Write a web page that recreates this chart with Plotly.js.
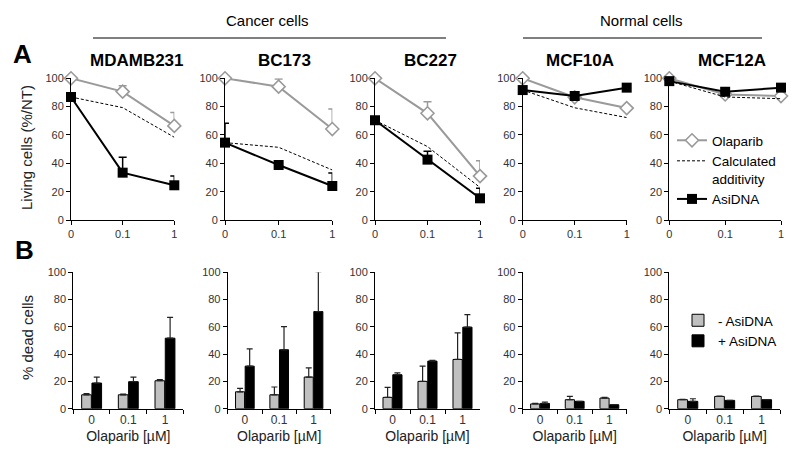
<!DOCTYPE html>
<html><head><meta charset="utf-8">
<script src="https://cdn.plot.ly/plotly-3.0.1.min.js"></script>
<style>html,body{margin:0;padding:0;background:#fff}#chart{width:800px;height:461px}</style>
</head><body><div id="chart"></div>
<script>
// ---------- data ----------
const cellLines = ['MDAMB231', 'BC173', 'BC227', 'MCF10A', 'MCF12A'];
const concLabels = ['0', '0.1', '1'];
const groupLabels = ['Cancer cells', 'Normal cells'];

// Panel A: living cells (%/NT), one row per cell line
const olaparibLiving = [[100, 90.6, 66.4], [100, 94.1, 64.2], [100, 75.3, 31.0], [100, 86.6, 79.0], [100, 88.6, 87.5]];
const olaparibErr    = [[0, 4.2, 9.4],     [0, 5.4, 14.2],    [0, 8.2, 10.9],    [0, 0, 0],         [0, 0, 0]];
const additivity     = [[86.8, 79.3, 58.4], [54.6, 51.3, 35.3], [70.4, 51.8, 23.0], [91.7, 79.2, 72.3], [98.0, 86.8, 85.6]];
const asidnaLiving   = [[86.8, 33.4, 24.5], [54.6, 38.8, 24.0], [70.4, 42.6, 15.3], [91.7, 87.5, 93.4], [98.0, 90.5, 93.4]];
const asidnaErr      = [[0, 10.8, 6.5],     [13.6, 0, 9.2],    [0, 5.9, 7.1],     [0, 0, 0],         [0, 0, 0]];

// Panel B: % dead cells
const deadMinus    = [[10.2, 10.2, 20.5], [12.4, 10.2, 23.2], [8.3, 20.0, 36.1], [3.5, 6.6, 7.8], [6.6, 9.0, 9.0]];
const deadMinusErr = [[0.8, 0.5, 0.8],    [2.5, 5.7, 6.8],    [7.3, 11.2, 19.5], [0.5, 2.4, 0.5], [0.3, 0.3, 0.3]];
const deadPlus     = [[18.8, 19.8, 51.7], [31.2, 43.2, 71.2], [24.9, 34.9, 59.8], [3.9, 5.4, 2.9], [5.4, 6.1, 6.6]];
const deadPlusErr  = [[4.4, 3.4, 15.3],   [12.7, 17.0, 29.3], [1.4, 0.5, 9.2],   [1.0, 0, 0],     [1.9, 0, 0]];

// ---------- layout helpers ----------
const W = 800, H = 461;
const px = x => x / W;
const py = y => 1 - y / H;
const aX = [[71, 174.3], [225, 332.3], [375, 480], [522.7, 626.7], [669.3, 781]];
const bX = [[73.3, 183.3], [227.7, 330.7], [375, 480], [522.7, 626.7], [669.3, 780]];
const aY = [220, 78.3], bY = [408.7, 272.3];
const titleX = [137, 284, 431, 580, 732];

const FONT = 'Liberation Sans, Arial, sans-serif';
const GREY = '#9a9a9a';
const TICKC = '#333';

const traces = [];
const layout = {
  width: W, height: H,
  margin: {l: 0, r: 0, t: 0, b: 0},
  paper_bgcolor: '#fff', plot_bgcolor: 'rgba(0,0,0,0)',
  font: {family: FONT, color: '#000'},
  showlegend: true,
  barmode: 'group', bargap: 0.44, bargroupgap: 0.06,
  legend: {x: px(672), y: py(125), xanchor: 'left', yanchor: 'top', valign: 'top',
           font: {size: 13.5, color: '#000', family: FONT}, bgcolor: 'rgba(0,0,0,0)', tracegroupgap: 0},
  legend2: {x: px(678), y: py(305), xanchor: 'left', yanchor: 'top',
            font: {size: 13.5, color: '#000', family: FONT}, bgcolor: 'rgba(0,0,0,0)', tracegroupgap: 0},
  annotations: [], shapes: []
};

function baseAxis() {
  return {showline: true, linecolor: '#000', linewidth: 1, ticks: 'outside', ticklen: 4,
          tickcolor: '#000', tickwidth: 1, showgrid: false, zeroline: false, fixedrange: true,
          tickfont: {size: 11, color: TICKC, family: FONT}};
}

cellLines.forEach((name, i) => {
  const na = i + 1, nb = i + 6;
  const xa = 'x' + na, ya = 'y' + na, xb = 'x' + nb, yb = 'y' + nb;
  const show = (i === 4);
  const showB = (i === 4);

  // Row A axes
  layout['xaxis' + na] = Object.assign(baseAxis(), {
    domain: [px(aX[i][0]), px(aX[i][1])], anchor: ya, type: 'category',
    range: [0, 2], categoryorder: 'array', categoryarray: concLabels
  });
  layout['yaxis' + na] = Object.assign(baseAxis(), {
    domain: [py(aY[0]), py(aY[1])], anchor: xa, range: [0, 100], tickvals: [0, 20, 40, 60, 80, 100]
  });
  // Row B axes
  layout['xaxis' + nb] = Object.assign(baseAxis(), {
    domain: [px(bX[i][0]), px(bX[i][1])], anchor: yb, type: 'category', tickson: 'boundaries',
    range: [-0.5, 2.5], categoryorder: 'array', categoryarray: concLabels,
    tickfont: {size: 12, color: TICKC, family: FONT},
    title: {text: 'Olaparib [µM]', font: {size: 14, color: '#222', family: FONT}, standoff: 5}
  });
  layout['yaxis' + nb] = Object.assign(baseAxis(), {
    domain: [py(bY[0]), py(bY[1])], anchor: xb, range: [0, 100], tickvals: [0, 20, 40, 60, 80, 100]
  });

  const zeros = [0, 0, 0];
  // Olaparib
  traces.push({
    type: 'scatter', mode: 'lines+markers', name: 'Olaparib', x: concLabels, y: olaparibLiving[i],
    xaxis: xa, yaxis: ya, showlegend: show, legend: 'legend', cliponaxis: false,
    line: {color: GREY, width: 2},
    marker: {symbol: 'diamond', size: 10, color: '#fff', line: {color: GREY, width: 1.6}},
    error_y: {type: 'data', symmetric: false, array: olaparibErr[i], arrayminus: zeros,
              color: GREY, thickness: 1.5, width: 4}
  });
  // Calculated additivity
  traces.push({
    type: 'scatter', mode: 'lines', name: 'Calculated<br>additivity', x: concLabels, y: additivity[i],
    xaxis: xa, yaxis: ya, showlegend: show, legend: 'legend', cliponaxis: false,
    line: {color: '#000', width: 1, dash: '3px,2px'}
  });
  // AsiDNA
  traces.push({
    type: 'scatter', mode: 'lines+markers', name: 'AsiDNA', x: concLabels, y: asidnaLiving[i],
    xaxis: xa, yaxis: ya, showlegend: show, legend: 'legend', cliponaxis: false,
    line: {color: '#000', width: 2},
    marker: {symbol: 'square', size: 10, color: '#000'},
    error_y: {type: 'data', symmetric: false, array: asidnaErr[i], arrayminus: zeros,
              color: '#000', thickness: 1.5, width: 4}
  });
  // Bars
  traces.push({
    type: 'bar', name: '- AsiDNA', x: concLabels, y: deadMinus[i], xaxis: xb, yaxis: yb,
    showlegend: showB, legend: 'legend2',
    marker: {color: '#c0c0c0', line: {color: '#000', width: 1}},
    error_y: {type: 'data', symmetric: false, array: deadMinusErr[i], arrayminus: zeros,
              color: '#222', thickness: 1.2, width: 3}
  });
  traces.push({
    type: 'bar', name: '+ AsiDNA', x: concLabels, y: deadPlus[i], xaxis: xb, yaxis: yb,
    showlegend: showB, legend: 'legend2',
    marker: {color: '#000', line: {color: '#000', width: 1}},
    error_y: {type: 'data', symmetric: false, array: deadPlusErr[i], arrayminus: zeros,
              color: '#222', thickness: 1.2, width: 3}
  });

  // Panel title
  layout.annotations.push({
    text: '<b>' + name + '</b>', xref: 'paper', yref: 'paper', x: px(titleX[i]), y: py(61),
    xanchor: 'center', yanchor: 'middle', showarrow: false, font: {size: 17, color: '#000', family: FONT}
  });
});

// Group headers with rules
const groupSpans = [[93, 446, 267.5], [523, 762, 641.7]];
groupLabels.forEach((g, k) => {
  layout.annotations.push({
    text: g, xref: 'paper', yref: 'paper', x: px(groupSpans[k][2]), y: py(20),
    xanchor: 'center', yanchor: 'middle', showarrow: false, font: {size: 15, color: '#000', family: FONT}
  });
  layout.shapes.push({
    type: 'line', xref: 'paper', yref: 'paper', x0: px(groupSpans[k][0]), x1: px(groupSpans[k][1]),
    y0: py(38), y1: py(38), line: {color: '#000', width: 1}
  });
});

// Panel letters and y-axis titles
layout.annotations.push(
  {text: '<b>A</b>', xref: 'paper', yref: 'paper', x: px(22), y: py(54), xanchor: 'center', yanchor: 'middle',
   showarrow: false, font: {size: 26, color: '#000', family: FONT}},
  {text: '<b>B</b>', xref: 'paper', yref: 'paper', x: px(24), y: py(250), xanchor: 'center', yanchor: 'middle',
   showarrow: false, font: {size: 26, color: '#000', family: FONT}},
  {text: 'Living cells (%/NT)', xref: 'paper', yref: 'paper', x: px(26), y: py(148), textangle: -90,
   xanchor: 'center', yanchor: 'middle', showarrow: false, font: {size: 15, color: '#222', family: FONT}},
  {text: '% dead cells', xref: 'paper', yref: 'paper', x: px(27), y: py(338), textangle: -90,
   xanchor: 'center', yanchor: 'middle', showarrow: false, font: {size: 15, color: '#222', family: FONT}}
);

Plotly.newPlot('chart', traces, layout, {staticPlot: true, displayModeBar: false});
</script>
</body></html>
